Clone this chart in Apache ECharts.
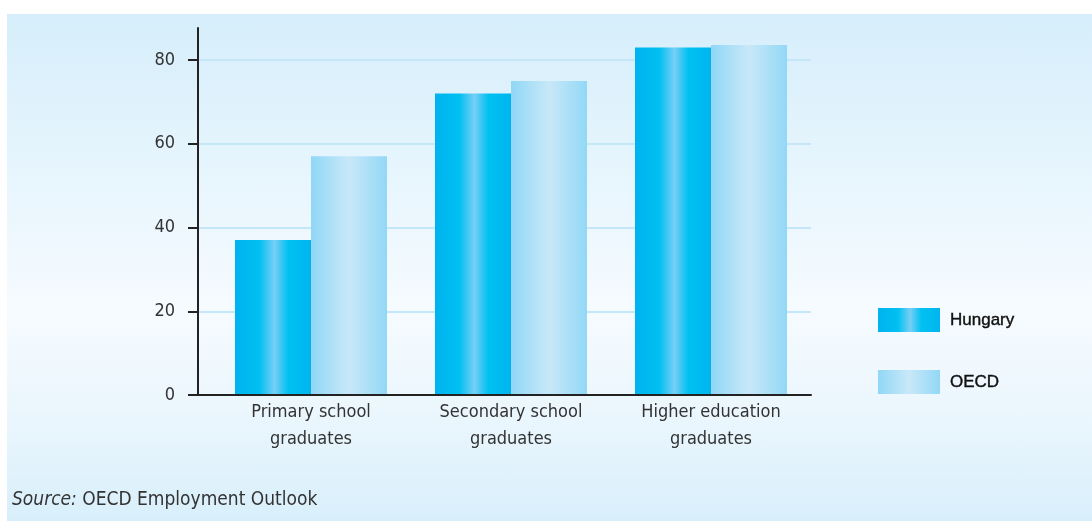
<!DOCTYPE html>
<html>
<head>
<meta charset="utf-8">
<script src="https://cdn.jsdelivr.net/npm/echarts@6/dist/echarts.min.js"></script>
<style>
  html, body { margin: 0; padding: 0; background: #ffffff; }
  #wrap { position: relative; width: 1092px; height: 521px; background: #ffffff; }
  #panel { position: absolute; left: 7px; top: 14px; width: 1085px; height: 507px;
    background: linear-gradient(to bottom, #d6eefb 0%, #e6f5fd 30%, #f6fbff 58%, #eaf6fd 80%, #d8effb 100%); }
  #chart { position: absolute; left: 0; top: 0; width: 1092px; height: 521px; }
</style>
</head>
<body>
<div id="wrap"><div id="panel"></div><div id="chart"></div></div>
<script>
const categories = ['Primary school\ngraduates', 'Secondary school\ngraduates', 'Higher education\ngraduates'];
const seriesNames = ['Hungary', 'OECD'];
const hungary = [37, 72, 83];
const oecd = [57, 75, 83.6];
const yMin = 0, yMax = 80, yInterval = 20;

const NARROW = "'Liberation Sans Narrow', 'DejaVu Sans Condensed', 'Liberation Sans', sans-serif";

const hungaryFill = new echarts.graphic.LinearGradient(0, 0, 1, 0, [
  { offset: 0, color: '#00b3ef' },
  { offset: 0.32, color: '#00c0f1' },
  { offset: 0.52, color: '#76cff5' },
  { offset: 0.70, color: '#00c1f1' },
  { offset: 1, color: '#00b5ef' }
]);
const oecdFill = new echarts.graphic.LinearGradient(0, 0, 1, 0, [
  { offset: 0, color: '#90d7f6' },
  { offset: 0.5, color: '#c8e8f8' },
  { offset: 1, color: '#92d8f6' }
]);

const chart = echarts.init(document.getElementById('chart'), null, { renderer: 'canvas' });
chart.setOption({
  backgroundColor: 'transparent',
  animation: false,
  title: {
    left: 7, top: 486,
    text: '{i|Source:} OECD Employment Outlook',
    textStyle: {
      fontFamily: NARROW, fontSize: 19, fontWeight: 'normal', color: '#333333',
      rich: { i: { fontFamily: NARROW, fontSize: 19, fontStyle: 'italic', color: '#333333' } }
    }
  },
  legend: {
    data: seriesNames,
    orient: 'vertical',
    left: 878, top: 308, padding: 0,
    itemWidth: 62, itemHeight: 24, itemGap: 38,
    icon: 'rect',
    selectedMode: false,
    textStyle: { fontFamily: "'Liberation Sans', Arial, sans-serif", fontSize: 17, fontWeight: 'normal', color: '#111111',
      textBorderColor: '#111111', textBorderWidth: 0.4, padding: [0,0,0,5] }
  },
  grid: [
    { left: 198, top: 60, width: 613, height: 335 },
    { left: 198, top: 28, width: 613, height: 367 },
    { left: 211, top: 60, width: 600, height: 335 }
  ],
  xAxis: [
    { gridIndex: 0, type: 'category', data: [''], axisLine: { show: false }, axisTick: { show: false }, axisLabel: { show: false } },
    { gridIndex: 1, type: 'category', data: [''], z: 10,
      axisLine: { show: true, lineStyle: { color: '#222222', width: 2 } }, axisTick: { show: false }, axisLabel: { show: false } },
    { gridIndex: 2, type: 'category', data: categories,
      axisLine: { show: false }, axisTick: { show: false },
      axisLabel: { margin: 4, fontFamily: NARROW, fontSize: 18, lineHeight: 27, color: '#333333', interval: 0 } }
  ],
  yAxis: [
    { gridIndex: 0, type: 'value', min: yMin, max: yMax, interval: yInterval,
      axisLine: { show: false },
      axisTick: { show: true, inside: false, length: 10, lineStyle: { color: '#222222', width: 2 } },
      axisLabel: { margin: 23, fontFamily: NARROW, fontSize: 18, color: '#333333', padding: [3,0,0,0] },
      splitLine: { show: true, lineStyle: { color: '#c3e6f9', width: 2 } } },
    { gridIndex: 1, type: 'value', min: 0, max: 1, z: 10,
      axisLine: { show: true, lineStyle: { color: '#222222', width: 2 } },
      axisTick: { show: false }, axisLabel: { show: false }, splitLine: { show: false } },
    { gridIndex: 2, type: 'value', min: yMin, max: yMax, interval: yInterval, show: false, splitLine: { show: false } }
  ],
  series: [
    { name: seriesNames[0], type: 'bar', xAxisIndex: 2, yAxisIndex: 2, data: hungary,
      barWidth: 76, barGap: '0%', clip: false, itemStyle: { color: hungaryFill } },
    { name: seriesNames[1], type: 'bar', xAxisIndex: 2, yAxisIndex: 2, data: oecd,
      barWidth: 76, barGap: '0%', clip: false, itemStyle: { color: oecdFill } }
  ]
});
</script>
</body>
</html>
